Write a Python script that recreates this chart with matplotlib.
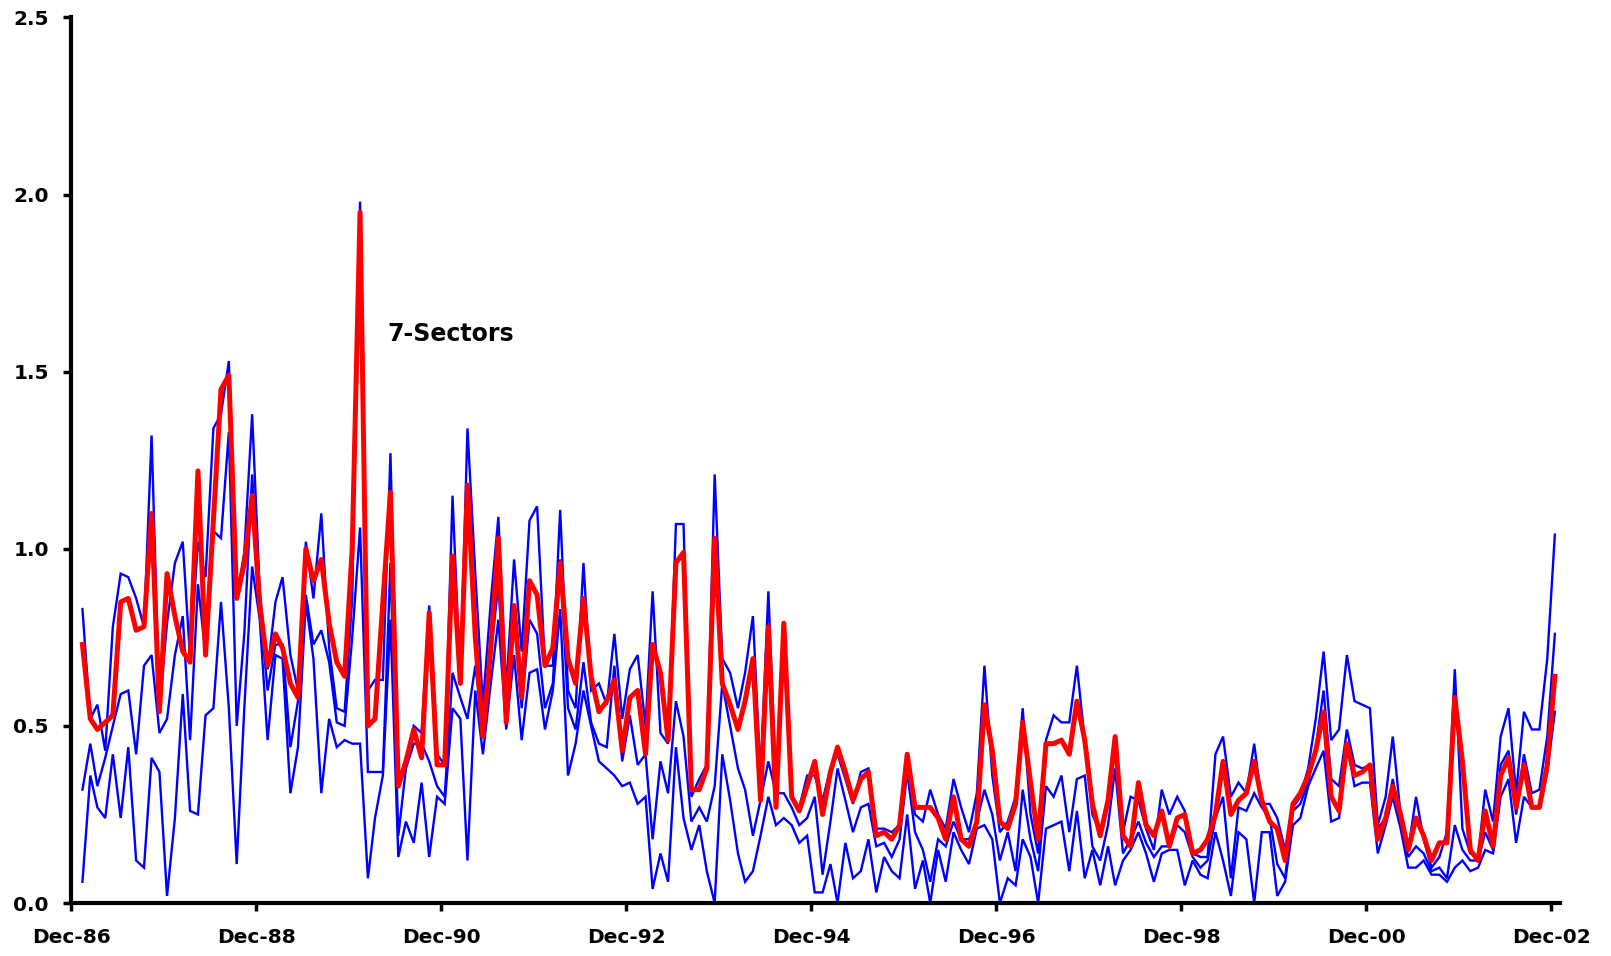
import numpy as np
import pandas as pd
import matplotlib
matplotlib.use("Agg")
import matplotlib.pyplot as plt
import matplotlib.dates as mdates

# Monthly observations Jan-87 .. Dec-02 (plotted mid-month)
months = pd.date_range("1987-01-01", periods=192, freq="MS") + pd.Timedelta(days=14)

red_7sectors = [
    0.73, 0.52, 0.49, 0.51, 0.53, 0.85, 0.86, 0.77, 0.78, 1.10,
    0.54, 0.93, 0.81, 0.71, 0.68, 1.22, 0.70, 1.08, 1.45, 1.49,
    0.86, 0.96, 1.15, 0.84, 0.67, 0.76, 0.72, 0.62, 0.58, 1.00,
    0.91, 0.97, 0.79, 0.68, 0.64, 1.00, 1.95, 0.50, 0.52, 0.85,
    1.16, 0.33, 0.40, 0.49, 0.41, 0.82, 0.39, 0.39, 0.98, 0.62,
    1.18, 0.75, 0.47, 0.72, 1.03, 0.51, 0.84, 0.58, 0.91, 0.87,
    0.67, 0.72, 0.96, 0.69, 0.62, 0.86, 0.64, 0.54, 0.57, 0.63,
    0.43, 0.58, 0.60, 0.42, 0.73, 0.65, 0.46, 0.96, 0.99, 0.32,
    0.32, 0.38, 1.03, 0.62, 0.56, 0.49, 0.57, 0.69, 0.29, 0.78,
    0.27, 0.79, 0.30, 0.26, 0.33, 0.40, 0.25, 0.37, 0.44, 0.37,
    0.29, 0.35, 0.37, 0.19, 0.20, 0.18, 0.22, 0.42, 0.27, 0.27,
    0.27, 0.24, 0.18, 0.30, 0.18, 0.16, 0.23, 0.56, 0.43, 0.23,
    0.21, 0.28, 0.51, 0.34, 0.18, 0.45, 0.45, 0.46, 0.42, 0.57,
    0.46, 0.28, 0.19, 0.29, 0.47, 0.19, 0.16, 0.34, 0.22, 0.19,
    0.26, 0.16, 0.24, 0.25, 0.14, 0.15, 0.18, 0.25, 0.40, 0.25,
    0.29, 0.31, 0.40, 0.29, 0.23, 0.21, 0.12, 0.28, 0.31, 0.36,
    0.43, 0.54, 0.30, 0.26, 0.45, 0.36, 0.37, 0.39, 0.18, 0.24,
    0.33, 0.25, 0.15, 0.24, 0.19, 0.12, 0.17, 0.17, 0.58, 0.40,
    0.15, 0.12, 0.26, 0.16, 0.36, 0.41, 0.27, 0.39, 0.27, 0.27,
    0.39, 0.64,
]

blue_high = [
    0.83, 0.52, 0.56, 0.43, 0.78, 0.93, 0.92, 0.86, 0.78, 1.32,
    0.55, 0.79, 0.96, 1.02, 0.69, 1.02, 0.92, 1.34, 1.38, 1.53,
    0.86, 0.99, 1.38, 0.88, 0.66, 0.85, 0.92, 0.70, 0.60, 1.02,
    0.86, 1.10, 0.72, 0.55, 0.54, 0.86, 1.98, 0.60, 0.63, 0.63,
    1.27, 0.35, 0.40, 0.50, 0.48, 0.84, 0.42, 0.39, 1.15, 0.62,
    1.34, 0.93, 0.56, 0.85, 1.09, 0.60, 0.97, 0.71, 1.08, 1.12,
    0.67, 0.67, 1.11, 0.60, 0.55, 0.96, 0.60, 0.62, 0.56, 0.76,
    0.52, 0.66, 0.70, 0.50, 0.88, 0.48, 0.45, 1.07, 1.07, 0.30,
    0.35, 0.39, 1.21, 0.69, 0.65, 0.55, 0.65, 0.81, 0.36, 0.88,
    0.33, 0.71, 0.30, 0.27, 0.36, 0.36, 0.29, 0.38, 0.42, 0.35,
    0.28, 0.37, 0.38, 0.21, 0.21, 0.20, 0.22, 0.38, 0.25, 0.23,
    0.32, 0.25, 0.21, 0.35, 0.27, 0.20, 0.31, 0.67, 0.36, 0.20,
    0.23, 0.30, 0.55, 0.25, 0.14, 0.46, 0.53, 0.51, 0.51, 0.67,
    0.46, 0.25, 0.20, 0.30, 0.44, 0.20, 0.30, 0.29, 0.21, 0.15,
    0.32, 0.25, 0.30, 0.26, 0.14, 0.13, 0.13, 0.42, 0.47, 0.30,
    0.34, 0.31, 0.45, 0.28, 0.28, 0.24, 0.15, 0.27, 0.30, 0.38,
    0.52, 0.71, 0.46, 0.49, 0.70, 0.57, 0.56, 0.55, 0.22, 0.30,
    0.47, 0.25, 0.15, 0.30, 0.18, 0.10, 0.13, 0.20, 0.66, 0.21,
    0.14, 0.13, 0.32, 0.23, 0.47, 0.55, 0.31, 0.54, 0.49, 0.49,
    0.69, 1.04,
]

blue_mid = [
    0.32, 0.45, 0.33, 0.41, 0.50, 0.59, 0.60, 0.42, 0.67, 0.70,
    0.48, 0.52, 0.70, 0.81, 0.46, 0.90, 0.70, 1.05, 1.03, 1.33,
    0.50, 0.76, 1.21, 0.84, 0.60, 0.73, 0.73, 0.44, 0.57, 0.87,
    0.73, 0.77, 0.68, 0.51, 0.50, 0.75, 1.06, 0.37, 0.37, 0.37,
    0.96, 0.19, 0.38, 0.45, 0.45, 0.40, 0.33, 0.30, 0.65, 0.58,
    0.52, 0.67, 0.50, 0.70, 0.90, 0.55, 0.84, 0.55, 0.80, 0.76,
    0.55, 0.62, 0.97, 0.55, 0.49, 0.68, 0.51, 0.45, 0.44, 0.67,
    0.40, 0.53, 0.39, 0.42, 0.18, 0.40, 0.31, 0.57, 0.47, 0.23,
    0.27, 0.23, 0.33, 0.62, 0.50, 0.38, 0.32, 0.19, 0.29, 0.40,
    0.31, 0.31, 0.27, 0.22, 0.24, 0.30, 0.08, 0.23, 0.38, 0.29,
    0.20, 0.27, 0.28, 0.16, 0.17, 0.13, 0.18, 0.37, 0.20, 0.15,
    0.06, 0.18, 0.16, 0.23, 0.18, 0.18, 0.23, 0.32, 0.25, 0.12,
    0.20, 0.09, 0.32, 0.18, 0.09, 0.33, 0.30, 0.36, 0.20, 0.35,
    0.36, 0.16, 0.12, 0.22, 0.38, 0.14, 0.18, 0.23, 0.17, 0.13,
    0.16, 0.16, 0.22, 0.20, 0.13, 0.10, 0.12, 0.24, 0.30, 0.07,
    0.27, 0.26, 0.31, 0.27, 0.24, 0.11, 0.07, 0.26, 0.28, 0.34,
    0.44, 0.60, 0.35, 0.33, 0.49, 0.39, 0.38, 0.39, 0.21, 0.24,
    0.35, 0.23, 0.13, 0.16, 0.14, 0.09, 0.10, 0.07, 0.22, 0.15,
    0.12, 0.12, 0.20, 0.15, 0.39, 0.43, 0.25, 0.42, 0.31, 0.32,
    0.47, 0.76,
]

blue_low = [
    0.06, 0.36, 0.27, 0.24, 0.42, 0.24, 0.44, 0.12, 0.10, 0.41,
    0.37, 0.02, 0.24, 0.59, 0.26, 0.25, 0.53, 0.55, 0.85, 0.55,
    0.11, 0.55, 0.95, 0.80, 0.46, 0.70, 0.69, 0.31, 0.44, 0.85,
    0.69, 0.31, 0.52, 0.44, 0.46, 0.45, 0.45, 0.07, 0.24, 0.36,
    0.80, 0.13, 0.23, 0.17, 0.34, 0.13, 0.30, 0.28, 0.55, 0.52,
    0.12, 0.60, 0.42, 0.62, 0.80, 0.49, 0.70, 0.46, 0.65, 0.66,
    0.49, 0.60, 0.83, 0.36, 0.45, 0.60, 0.50, 0.40, 0.38, 0.36,
    0.33, 0.34, 0.28, 0.30, 0.04, 0.14, 0.06, 0.44, 0.24, 0.15,
    0.22, 0.09, 0.00, 0.42, 0.29, 0.14, 0.06, 0.09, 0.19, 0.30,
    0.22, 0.24, 0.22, 0.17, 0.19, 0.03, 0.03, 0.11, 0.00, 0.17,
    0.07, 0.09, 0.18, 0.03, 0.13, 0.09, 0.07, 0.25, 0.04, 0.12,
    0.00, 0.15, 0.06, 0.20, 0.15, 0.11, 0.21, 0.22, 0.18, 0.00,
    0.07, 0.05, 0.18, 0.13, 0.00, 0.21, 0.22, 0.23, 0.09, 0.26,
    0.07, 0.15, 0.05, 0.16, 0.05, 0.12, 0.15, 0.20, 0.14, 0.06,
    0.14, 0.15, 0.15, 0.05, 0.12, 0.08, 0.07, 0.20, 0.12, 0.02,
    0.20, 0.18, 0.00, 0.20, 0.20, 0.02, 0.06, 0.22, 0.24, 0.33,
    0.38, 0.43, 0.23, 0.24, 0.45, 0.33, 0.34, 0.34, 0.14, 0.22,
    0.30, 0.21, 0.10, 0.10, 0.12, 0.08, 0.08, 0.06, 0.10, 0.12,
    0.09, 0.10, 0.15, 0.14, 0.30, 0.35, 0.17, 0.30, 0.27, 0.27,
    0.37, 0.54,
]

x_tick_labels = ["Dec-86", "Dec-88", "Dec-90", "Dec-92",
                 "Dec-94", "Dec-96", "Dec-98", "Dec-00", "Dec-02"]
y_ticks = [0.0, 0.5, 1.0, 1.5, 2.0, 2.5]
annotation = "7-Sectors"

plt.rcParams["font.family"] = ["DejaVu Sans"]
fig = plt.figure(figsize=(16.11, 9.56), dpi=100)
ax = fig.add_axes([0.0441, 0.0554, 0.9242, 0.9263])

for series in (blue_high, blue_mid, blue_low):
    ax.plot(months, series, color="#0000FF", lw=1.7, solid_joinstyle="miter")
ax.plot(months, red_7sectors, color="#FF0000", lw=3.6, solid_joinstyle="round")

x_ticks = pd.date_range("1986-12-01", periods=len(x_tick_labels), freq="24MS")
ax.set_xticks(x_ticks)
ax.set_xticklabels(x_tick_labels)
ax.set_xlim(pd.Timestamp("1986-12-01"), pd.Timestamp("2003-01-04"))
ax.set_ylim(0, 2.5)
ax.set_yticks(y_ticks)
ax.set_yticklabels([f"{v:.1f}" for v in y_ticks])

for side in ("top", "right"):
    ax.spines[side].set_visible(False)
for side in ("left", "bottom"):
    ax.spines[side].set_linewidth(3.0)
    ax.spines[side].set_color("black")

ax.tick_params(axis="both", direction="out", length=6, width=2.5,
               labelsize=14.5, colors="black")
ax.tick_params(axis="x", pad=12)
ax.tick_params(axis="y", pad=10)
for lab in ax.get_xticklabels() + ax.get_yticklabels():
    lab.set_fontweight("bold")

ax.text(pd.Timestamp("1990-05-04"), 1.606, annotation, fontsize=17,
        fontweight="bold", ha="left", va="center", color="black")

fig.savefig("out.png", dpi=100)
